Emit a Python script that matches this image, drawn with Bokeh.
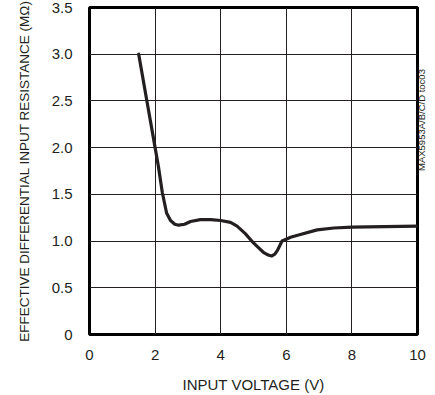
import math
from bokeh.plotting import figure
from bokeh.models import FixedTicker, LinearAxis
from bokeh.embed import file_html
from bokeh.resources import INLINE

# Data
voltage = [1.5, 1.75, 2.0, 2.1, 2.22, 2.35, 2.47, 2.6, 2.72, 2.9, 3.08, 3.38, 3.7, 4.0,
           4.3, 4.5, 4.75, 5.0, 5.15, 5.3, 5.45, 5.55, 5.65, 5.73, 5.8, 5.87, 6.0, 6.13,
           6.43, 6.94, 7.45, 8.0, 9.0, 10.0]
resistance = [3.0, 2.5, 2.0, 1.8, 1.52, 1.30, 1.22, 1.18, 1.17, 1.18, 1.21, 1.23, 1.23, 1.22,
              1.20, 1.16, 1.08, 0.98, 0.93, 0.88, 0.85, 0.84, 0.86, 0.90, 0.95, 1.00, 1.02, 1.04,
              1.07, 1.12, 1.14, 1.15, 1.155, 1.16]

x_ticks = [0, 2, 4, 6, 8, 10]
y_ticks = [0, 0.5, 1.0, 1.5, 2.0, 2.5, 3.0, 3.5]
y_tick_labels = ["0", "0.5", "1.0", "1.5", "2.0", "2.5", "3.0", "3.5"]

x_title = "INPUT VOLTAGE (V)"
y_title = "EFFECTIVE DIFFERENTIAL INPUT RESISTANCE (MΩ)"
side_note = "MAX5953A/B/C/D toc03"

FONT = "'Liberation Sans Narrow', 'Arial Narrow', 'Nimbus Sans Narrow', 'Liberation Sans', sans-serif"

p = figure(width=435, height=395, x_range=(0, 10), y_range=(0, 3.5),
           output_backend="svg", toolbar_location=None)
p.min_border_left = 89
p.min_border_right = 18
p.min_border_top = 7
p.min_border_bottom = 59
p.background_fill_color = "white"
p.border_fill_color = "white"
p.outline_line_color = "black"
p.outline_line_width = 3

p.xaxis.ticker = FixedTicker(ticks=x_ticks)
p.yaxis.ticker = FixedTicker(ticks=y_ticks)
p.yaxis.major_label_overrides = {t: l for t, l in zip(y_ticks, y_tick_labels)}

for ax in (p.xaxis[0], p.yaxis[0]):
    ax.axis_line_color = None
    ax.major_tick_line_color = None
    ax.minor_tick_line_color = None
    ax.major_tick_out = 0
    ax.major_tick_in = 0
    ax.major_label_text_font = FONT
    ax.major_label_text_color = "#231f20"
    ax.major_label_text_font_size = "15px"
    ax.axis_label_text_font = FONT
    ax.axis_label_text_font_style = "normal"
    ax.axis_label_text_color = "#231f20"

p.xaxis.major_label_standoff = 15
p.yaxis.major_label_standoff = 17
p.xaxis.axis_label = x_title
p.xaxis.axis_label_text_font_size = "15px"
p.xaxis.axis_label_standoff = 13
p.yaxis.axis_label = y_title
p.yaxis.axis_label_text_font_size = "13.5px"
p.yaxis.axis_label_standoff = 17

p.xgrid.ticker = FixedTicker(ticks=x_ticks)
p.ygrid.ticker = FixedTicker(ticks=y_ticks)
for g in (p.xgrid[0], p.ygrid[0]):
    g.grid_line_color = "#231f20"
    g.grid_line_width = 1

p.line(voltage, resistance, line_color="#231f20", line_width=3.2,
       line_join="round", line_cap="round")

# side note as label of an empty right axis, placed at the top of the frame
side_axis = LinearAxis(ticker=FixedTicker(ticks=[]), axis_label=side_note,
                       bounds=(3.48, 3.52),
                       axis_line_color=None, major_tick_line_color=None,
                       minor_tick_line_color=None, major_tick_out=0, major_tick_in=0,
                       major_label_text_font_size="0px", major_label_standoff=0,
                       axis_label_standoff=4, axis_label_text_font=FONT,
                       axis_label_text_font_size="9.5px", axis_label_text_font_style="normal",
                       axis_label_text_color="#231f20")
props = LinearAxis.properties()
if "axis_label_orientation" in props:
    side_axis.axis_label_orientation = math.pi / 2
if "axis_label_align" in props:
    side_axis.axis_label_align = "center"
p.add_layout(side_axis, "right")

open("out.html", "w").write(file_html(p, INLINE))
